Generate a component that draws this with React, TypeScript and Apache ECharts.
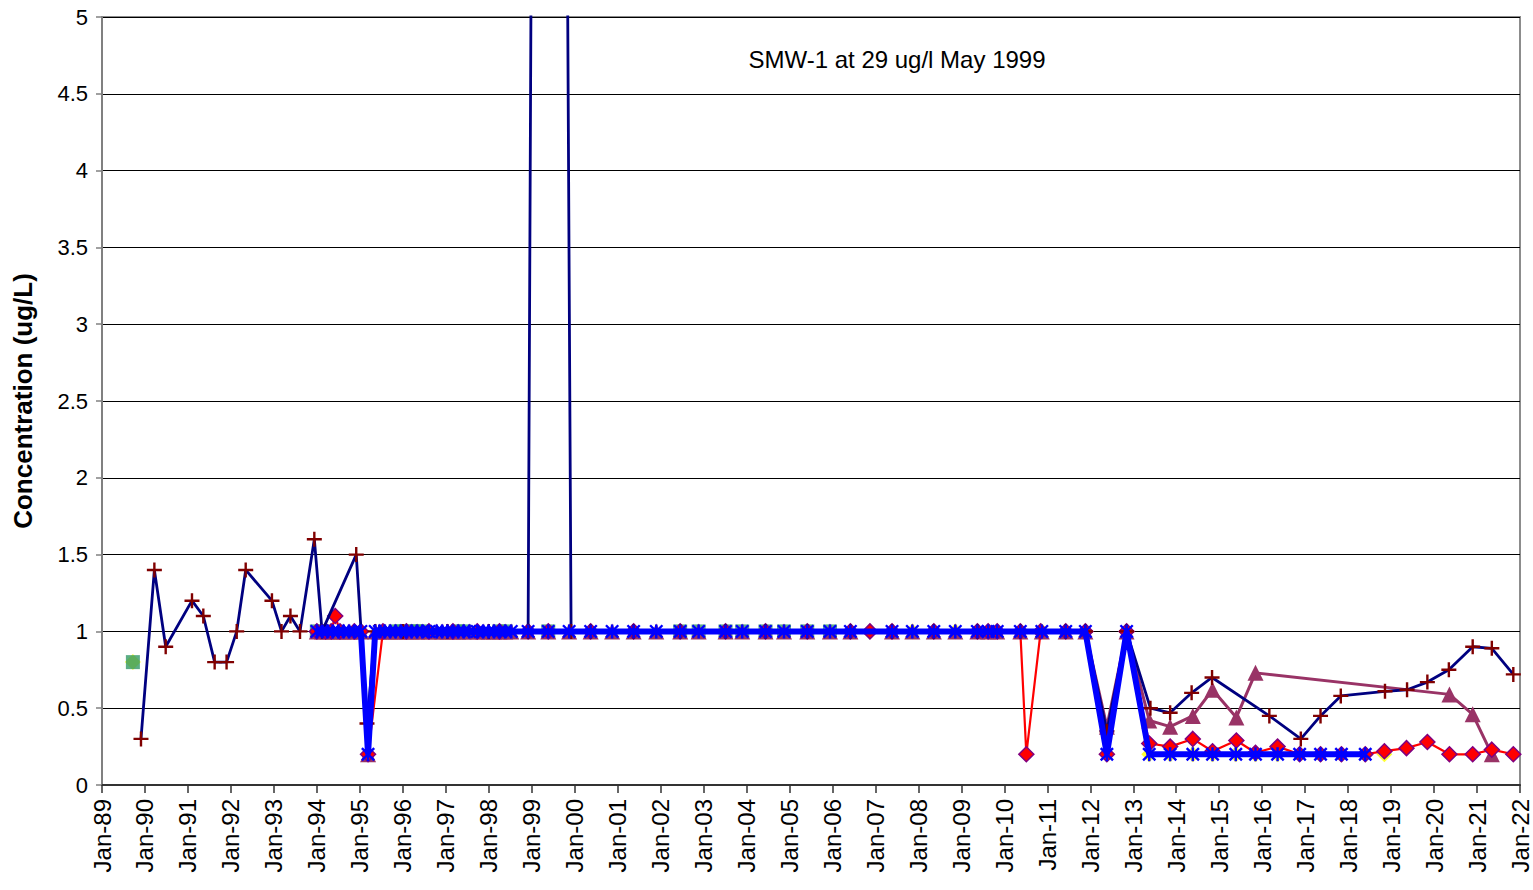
import React, { useEffect, useRef } from "react";
import * as echarts from "echarts";

// ---------- DATA ----------
const xTickYears = [1989, 2022]; // axis range Jan-89 .. Jan-22
const yMax = 5;
const titleText = "SMW-1 at 29 ug/l May 1999";
const yAxisName = "Concentration (ug/L)";

// sampling dates where the main series sit at 1.0 (non-detect level)
const bandDates = [
  "1994-01-01", "1994-02-15", "1994-04-01", "1994-05-15", "1994-07-01", "1994-08-15", "1994-10-01", "1994-11-15", "1995-01-10",
  "1995-05-10", "1995-06-15", "1995-08-01", "1995-09-15", "1995-11-01", "1995-12-15", "1996-02-01", "1996-03-15", "1996-05-01",
  "1996-06-15", "1996-08-10", "1996-10-15", "1996-12-01", "1997-01-15", "1997-03-01", "1997-04-15", "1997-06-01", "1997-07-20",
  "1997-09-25", "1997-11-15", "1998-01-01", "1998-02-15", "1998-04-01", "1998-05-20", "1998-07-10", "1998-12-01", "1999-05-20",
  "1999-11-15", "2000-05-15", "2000-11-15", "2001-05-15", "2001-11-25", "2002-06-15", "2002-11-20", "2003-07-05", "2003-11-25",
  "2004-06-10", "2004-11-15", "2005-05-30", "2005-12-10", "2006-06-01", "2007-05-20", "2007-11-10", "2008-05-10", "2008-11-10",
  "2009-05-15", "2009-08-15", "2009-11-01", "2010-05-15", "2010-11-15", "2011-06-05", "2011-11-20",
];
const bandValue = 1.0;

// thick blue series (other points)
const blueOther: [string, number][] = [
  ["1995-03-10", 0.2], ["2012-05-20", 0.2], ["2012-11-05", 1.0],
  ["2013-05-15", 0.2], ["2013-11-10", 0.2], ["2014-05-20", 0.2], ["2014-11-05", 0.2], ["2015-05-20", 0.2],
  ["2015-11-05", 0.2], ["2016-05-10", 0.2], ["2016-11-15", 0.2], ["2017-05-10", 0.2], ["2017-11-05", 0.2], ["2018-05-25", 0.2],
];

// mauve triangle series (other points)
const mauveOther: [string, number][] = [
  ["1995-03-10", 0.2], ["2012-05-20", 0.38], ["2012-11-05", 1.0],
  ["2013-05-15", 0.42], ["2013-11-10", 0.38], ["2014-05-20", 0.45], ["2014-11-05", 0.62], ["2015-05-25", 0.44],
  ["2015-11-05", 0.73], ["2020-05-10", 0.59], ["2020-11-25", 0.46], ["2021-05-05", 0.2],
];

// navy line with "+" markers
const navyData: [string, number][] = [
  ["1989-11-28", 0.3], ["1990-03-20", 1.4], ["1990-06-25", 0.9], ["1991-02-05", 1.2], ["1991-05-10", 1.1],
  ["1991-08-15", 0.8], ["1991-11-25", 0.8], ["1992-02-20", 1.0], ["1992-05-05", 1.4], ["1992-12-15", 1.2],
  ["1993-03-05", 1.0], ["1993-05-20", 1.1], ["1993-08-10", 1.0], ["1993-12-10", 1.6], ["1994-02-15", 1.0],
  ["1994-12-01", 1.5], ["1995-03-01", 0.4], ["1995-05-10", 1.0], ["1996-01-01", 1.0], ["1997-01-15", 1.0],
  ["1998-01-01", 1.0], ["1998-12-01", 1.0], ["1999-05-15", 29], ["1999-12-01", 1.0], ["2000-05-15", 1.0],
  ["2001-05-15", 1.0], ["2002-06-15", 1.0], ["2003-07-05", 1.0], ["2004-06-10", 1.0], ["2005-05-30", 1.0],
  ["2006-06-01", 1.0], ["2007-05-20", 1.0], ["2008-05-10", 1.0], ["2009-05-15", 1.0], ["2010-05-15", 1.0],
  ["2011-06-05", 1.0], ["2011-11-20", 1.0], ["2012-05-20", 0.35], ["2012-11-05", 1.0],
  ["2013-05-25", 0.5], ["2013-11-10", 0.47], ["2014-05-10", 0.6], ["2014-11-01", 0.7], ["2016-03-01", 0.45],
  ["2016-11-25", 0.3], ["2017-05-10", 0.45], ["2017-10-30", 0.58], ["2018-11-10", 0.61], ["2019-05-15", 0.62],
  ["2019-11-05", 0.67], ["2020-05-05", 0.75], ["2020-11-25", 0.9], ["2021-05-05", 0.89], ["2021-11-05", 0.72],
];

// red line with diamond markers
const redData: [string, number][] = [
  ["1994-01-01", 1.0], ["1994-03-15", 1.0], ["1994-05-01", 1.0], ["1994-06-05", 1.1], ["1994-07-15", 1.0],
  ["1994-11-15", 1.0], ["1995-01-10", 1.0], ["1995-03-10", 0.2], ["1995-07-15", 1.0], ["1996-02-01", 1.0],
  ["1996-08-10", 1.0], ["1997-03-01", 1.0], ["1997-09-25", 1.0], ["1998-04-01", 1.0], ["1998-12-01", 1.0],
  ["1999-05-20", 1.0], ["2000-05-15", 1.0], ["2001-05-15", 1.0], ["2002-06-15", 1.0], ["2003-07-05", 1.0],
  ["2004-06-10", 1.0], ["2005-05-30", 1.0], ["2006-06-01", 1.0], ["2006-11-15", 1.0], ["2007-05-20", 1.0],
  ["2008-05-10", 1.0], ["2009-05-15", 1.0], ["2009-08-15", 1.0], ["2009-11-01", 1.0], ["2010-05-15", 1.0],
  ["2010-07-05", 0.2], ["2010-11-05", 1.0], ["2011-06-05", 1.0], ["2011-11-20", 1.0], ["2012-05-20", 0.2],
  ["2012-11-05", 1.0], ["2013-05-15", 0.27], ["2013-11-10", 0.25], ["2014-05-20", 0.3], ["2014-11-05", 0.22],
  ["2015-05-25", 0.29], ["2015-11-05", 0.21], ["2016-05-10", 0.25], ["2016-11-15", 0.2], ["2017-05-10", 0.2],
  ["2017-11-05", 0.2], ["2018-05-25", 0.2], ["2018-11-05", 0.22], ["2019-05-10", 0.24], ["2019-11-05", 0.28],
  ["2020-05-10", 0.2], ["2020-11-25", 0.2], ["2021-05-05", 0.23], ["2021-11-05", 0.2],
];

// green squares (markers only)
const greenData: [string, number][] = [
  ["1989-09-20", 0.8], ["1994-01-01", 1.0], ["1994-02-15", 1.0], ["1995-11-01", 1.0], ["1995-12-15", 1.0],
  ["1996-02-01", 1.0], ["1996-03-15", 1.0], ["1996-05-01", 1.0], ["1996-06-15", 1.0], ["1997-04-15", 1.0],
  ["1997-06-01", 1.0], ["1998-04-01", 1.0], ["1998-05-20", 1.0], ["1999-05-20", 1.0], ["2002-06-15", 1.0],
  ["2002-11-20", 1.0], ["2003-07-05", 1.0], ["2003-11-25", 1.0], ["2004-06-10", 1.0], ["2004-11-15", 1.0],
  ["2005-05-30", 1.0], ["2005-12-10", 1.0],
];

// yellow diamonds (markers only)
const yellowData: [string, number][] = [
  ["1989-09-20", 0.8], ["2006-06-01", 1.0], ["2006-11-15", 1.0], ["2007-05-20", 1.0], ["2007-11-10", 1.0],
  ["2008-05-10", 1.0], ["2008-11-10", 1.0], ["2009-05-15", 1.0], ["2009-08-15", 1.0], ["2009-11-01", 1.0],
  ["2010-05-15", 1.0], ["2010-11-15", 1.0], ["2011-06-05", 1.0], ["2011-11-20", 1.0], ["2012-05-20", 0.2],
  ["2012-11-05", 1.0], ["2013-05-15", 0.2], ["2013-11-10", 0.2], ["2014-05-20", 0.2], ["2014-11-05", 0.2],
  ["2015-05-20", 0.2], ["2015-11-05", 0.2], ["2016-05-10", 0.2], ["2016-11-15", 0.2], ["2017-05-10", 0.2],
  ["2017-11-05", 0.2], ["2018-05-25", 0.2], ["2018-11-05", 0.2],
];

// ---------- helpers ----------
const toYear = (d: string) => {
  const [y, m, dd] = d.split("-").map(Number);
  return y + (m - 1) / 12 + (dd - 1) / 365;
};
const conv = (arr: [string, number][]) =>
  arr.map(([d, v]) => [toYear(d), v]).sort((a, b) => a[0] - b[0]);

const PLUS = "path://M4.2,0h1.6v10h-1.6z M0,4.2h10v1.6h-10z";
const STAR =
  "path://M4.1,0h1.8v10h-1.8z M0,1.2L1.2,0L10,8.8L8.8,10z M8.8,0L10,1.2L1.2,10L0,8.8z";

const FONT = "'Liberation Sans', Arial, sans-serif";

export default function App() {
  const ref = useRef<HTMLDivElement>(null);
  useEffect(() => {
    if (!ref.current) return;
    const chart = echarts.init(ref.current, null, { renderer: "svg" });
    const bandPairs: [string, number][] = bandDates.map((d) => [d, bandValue]);
    const blue = conv([...bandPairs, ...blueOther]);
    const mauve = conv([...bandPairs, ...mauveOther]);

    chart.setOption({
      animation: false,
      backgroundColor: "#ffffff",
      grid: {
        left: 102,
        right: 13,
        top: 17,
        bottom: 105,
        show: true,
        borderColor: "#8c8c8c",
        borderWidth: 2,
        backgroundColor: "transparent",
      },
      graphic: [
        {
          type: "text",
          x: 897,
          y: 59,
          style: {
            text: titleText,
            fontSize: 24,
            fontFamily: FONT,
            fill: "#000",
            textAlign: "center",
            textVerticalAlign: "middle",
          },
          z: 10,
        },
      ],
      xAxis: {
        type: "value",
        min: xTickYears[0],
        max: xTickYears[1],
        interval: 1,
        axisLine: { show: true, onZero: false, lineStyle: { color: "#333", width: 2 } },
        axisTick: { show: true, length: 8, lineStyle: { color: "#333", width: 1.5 } },
        splitLine: { show: false },
        axisLabel: {
          rotate: 90,
          margin: 14,
          fontSize: 24,
          lineHeight: 22,
          fontFamily: FONT,
          color: "#000",
          formatter: (v: number) => "Jan-" + String(Math.round(v)).slice(2),
        },
      },
      yAxis: {
        type: "value",
        min: 0,
        max: yMax,
        interval: 0.5,
        name: yAxisName,
        nameLocation: "middle",
        nameGap: 66,
        nameTextStyle: { fontSize: 26, fontWeight: "bold", fontFamily: FONT, color: "#000" },
        axisLine: { show: true, lineStyle: { color: "#808080", width: 2 } },
        axisTick: { show: true, length: 6, lineStyle: { color: "#808080", width: 1.5 } },
        splitLine: { show: true, lineStyle: { color: "#000", width: 1 } },
        axisLabel: { fontSize: 22, fontFamily: FONT, color: "#000", margin: 14 },
      },
      series: [
        {
          name: "yellow",
          type: "scatter",
          data: conv(yellowData),
          symbol: "diamond",
          symbolSize: 16,
          itemStyle: { color: "#FFFF00" },
          z: 2,
        },
        {
          name: "green",
          type: "scatter",
          data: conv(greenData),
          symbol: "rect",
          symbolSize: 14,
          itemStyle: { color: "#339966" },
          z: 2,
        },
        {
          name: "mauve",
          type: "line",
          data: mauve,
          symbol: "triangle",
          symbolSize: 16,
          itemStyle: { color: "#993366" },
          lineStyle: { color: "#993366", width: 3 },
          z: 3,
        },
        {
          name: "red",
          type: "line",
          data: conv(redData),
          symbol: "diamond",
          symbolSize: 15,
          itemStyle: { color: "#FF0000", borderColor: "#800080", borderWidth: 1.5 },
          lineStyle: { color: "#FF0000", width: 2.2 },
          z: 4,
        },
        {
          name: "navy",
          type: "line",
          data: conv(navyData),
          symbol: PLUS,
          symbolSize: 15,
          itemStyle: { color: "#800000" },
          lineStyle: { color: "#000080", width: 2.8 },
          z: 5,
        },
        {
          name: "blue",
          type: "line",
          data: blue,
          symbol: STAR,
          symbolSize: 14,
          itemStyle: { color: "#0000FF" },
          lineStyle: { color: "#0000FF", width: 6 },
          z: 6,
        },
      ],
    });
    return () => chart.dispose();
  }, []);
  return (
    <div
      ref={ref}
      style={{ position: "fixed", left: 0, top: 0, width: 1533, height: 890, background: "#fff" }}
    />
  );
}
